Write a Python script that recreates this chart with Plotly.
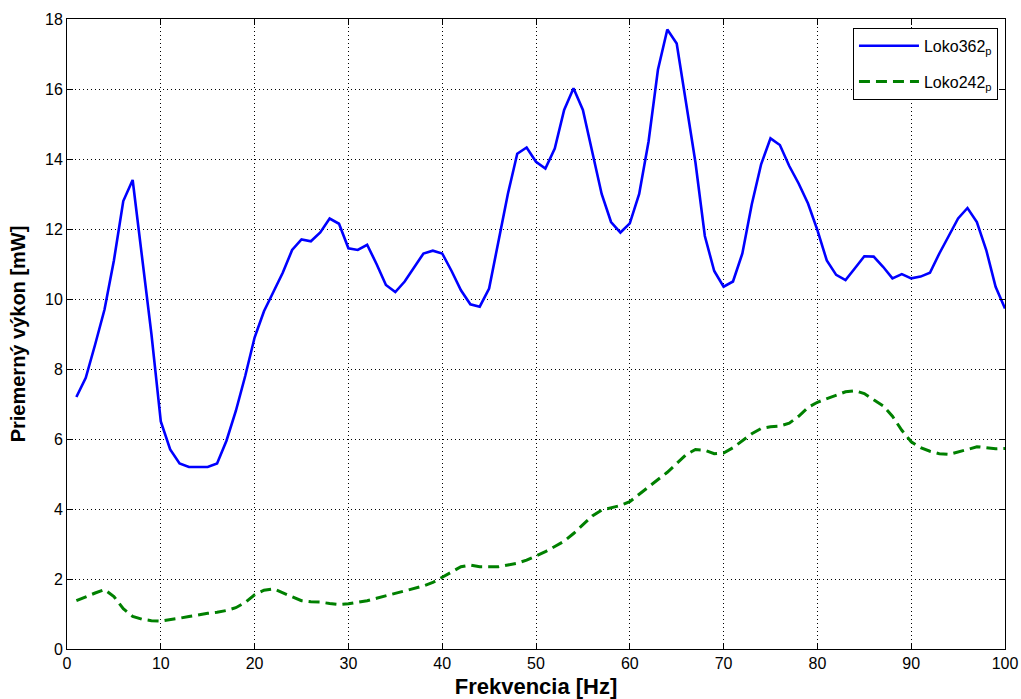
import plotly.graph_objects as go

# Frequency axis (Hz) and mean power of the two locomotives (mW)
freq_hz = list(range(1, 101))

loko362_mw = [
    7.2, 7.75, 8.7, 9.7, 11.1, 12.8, 13.4, 11.2, 9.0, 6.5,
    5.7, 5.3, 5.2, 5.2, 5.2, 5.3, 5.95, 6.8, 7.8, 8.9,
    9.65, 10.2, 10.75, 11.4, 11.7, 11.65, 11.9, 12.3, 12.15, 11.45,
    11.4, 11.55, 11.0, 10.4, 10.2, 10.5, 10.9, 11.3, 11.38, 11.3,
    10.8, 10.25, 9.85, 9.78, 10.3, 11.7, 13.0, 14.15, 14.33, 13.92,
    13.73, 14.3, 15.4, 16.02, 15.4, 14.2, 13.0, 12.2, 11.9, 12.16,
    13.0, 14.5, 16.55, 17.7, 17.3, 15.6, 13.9, 11.8, 10.8, 10.35,
    10.5, 11.3, 12.7, 13.85, 14.59, 14.4, 13.8, 13.3, 12.73, 11.97,
    11.1, 10.69, 10.54, 10.88, 11.22, 11.21, 10.92, 10.59, 10.71, 10.59,
    10.64, 10.75, 11.3, 11.8, 12.3, 12.6, 12.2, 11.4, 10.35, 9.73,
]

loko242_mw = [
    1.38, 1.5, 1.6, 1.7, 1.5, 1.15, 0.93, 0.85, 0.81, 0.8,
    0.83, 0.88, 0.93, 0.98, 1.02, 1.05, 1.1, 1.18, 1.33, 1.55,
    1.68, 1.72, 1.6, 1.48, 1.38, 1.35, 1.34, 1.3, 1.27, 1.29,
    1.33, 1.38, 1.45, 1.52, 1.58, 1.65, 1.72, 1.8, 1.9, 2.05,
    2.2, 2.35, 2.4, 2.35, 2.35, 2.35, 2.4, 2.45, 2.54, 2.65,
    2.78, 2.93, 3.08, 3.3, 3.55, 3.8, 3.97, 4.03, 4.1, 4.21,
    4.42, 4.65, 4.85, 5.05, 5.3, 5.55, 5.7, 5.68, 5.58, 5.6,
    5.75, 5.95, 6.15, 6.3, 6.35, 6.37, 6.45, 6.65, 6.9, 7.05,
    7.15, 7.27, 7.35, 7.38, 7.3, 7.12, 6.95, 6.65, 6.25, 5.92,
    5.75, 5.65, 5.58, 5.56, 5.62, 5.7, 5.78, 5.75, 5.72, 5.73,
]

x_ticks = list(range(0, 101, 10))
y_ticks = list(range(0, 19, 2))

fig = go.Figure()
fig.add_trace(go.Scatter(
    x=freq_hz, y=loko362_mw, mode="lines",
    name="Loko362<sub>p</sub>", legendgroup="a",
    line=dict(color="#0000FF", width=2.6),
))
fig.add_trace(go.Scatter(
    x=freq_hz, y=loko242_mw, mode="lines",
    name="Loko242<sub>p</sub>", legendgroup="b",
    line=dict(color="#008000", width=3, dash="11px,6px"),
))

axis_common = dict(
    showline=True, linecolor="black", linewidth=1, mirror="ticks",
    ticks="inside", ticklen=6, tickcolor="black",
    showgrid=True, gridcolor="black", gridwidth=1, griddash="1px,3px",
    zeroline=False, automargin=False,
    tickfont=dict(family="Liberation Sans, Arial", size=16, color="black"),
)

fig.update_xaxes(
    range=[0, 100], tickvals=x_ticks,
    title=dict(text="<b>Frekvencia [Hz]</b>", standoff=8,
               font=dict(family="Liberation Sans, Arial", size=22, color="black")),
    **axis_common,
)
fig.update_yaxes(
    range=[0, 18], tickvals=y_ticks,
    title=dict(text="<b>Priemerný výkon [mW]</b>", standoff=14,
               font=dict(family="Liberation Sans, Arial", size=20, color="black")),
    **axis_common,
)

fig.update_layout(
    width=1021, height=699,
    margin=dict(l=67, r=16, t=19, b=50),
    paper_bgcolor="white", plot_bgcolor="white",
    legend=dict(
        x=0.9925, y=0.986, xanchor="right", yanchor="top",
        bgcolor="white", bordercolor="black", borderwidth=1,
        font=dict(family="Liberation Sans, Arial", size=16, color="black"),
        tracegroupgap=12, itemwidth=60,
    ),
)

fig.write_html("out.html")
